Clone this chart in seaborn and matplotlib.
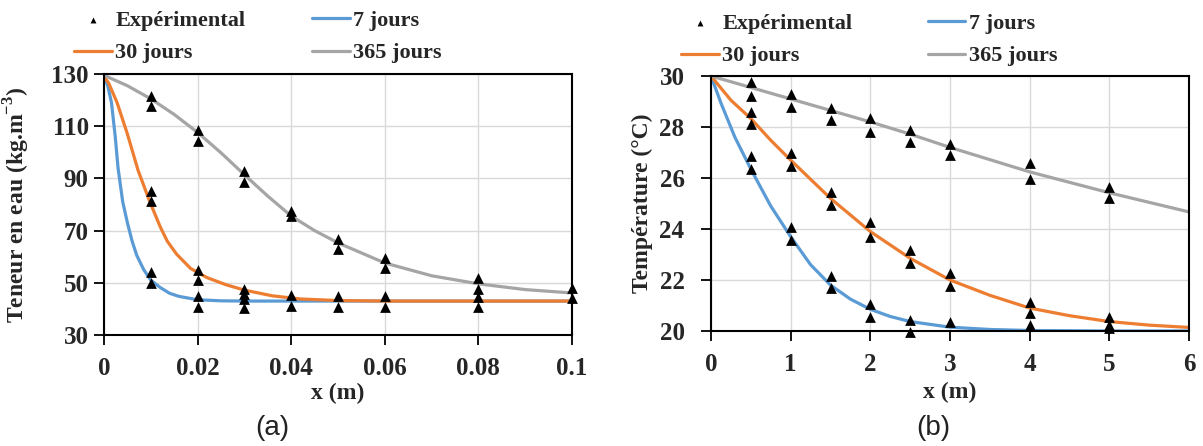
import matplotlib
matplotlib.use("Agg")
import matplotlib.pyplot as plt
import seaborn as sns
import pandas as pd

# ---------------- data: panel (a) ----------------
a_exp_x = [0.01, 0.01, 0.01, 0.01, 0.01, 0.01,
           0.02, 0.02, 0.02, 0.02, 0.02, 0.02,
           0.03, 0.03, 0.03, 0.03, 0.03, 0.03,
           0.04, 0.04, 0.04, 0.04,
           0.05, 0.05, 0.05, 0.05,
           0.06, 0.06, 0.06, 0.06,
           0.08, 0.08, 0.08, 0.08,
           0.1, 0.1]
a_exp_y = [121.6, 117.8, 85.2, 81.3, 54.2, 50.1,
           108.6, 104.5, 54.9, 51.1, 44.9, 40.9,
           92.9, 88.8, 47.6, 45.7, 43.8, 40.4,
           77.7, 75.7, 45.3, 41.0,
           66.9, 62.9, 44.8, 40.7,
           59.5, 55.6, 44.8, 40.7,
           51.8, 47.6, 44.6, 40.7,
           48.0, 44.0]

a7_x = [0, 0.0008, 0.0016, 0.0024, 0.003, 0.004, 0.005, 0.006, 0.007, 0.0085,
        0.010, 0.012, 0.014, 0.016, 0.020, 0.025, 0.03, 0.1]
a7_y = [129, 125.5, 119, 106, 94, 81, 73, 66, 60.5, 55,
        51, 48.2, 46, 44.8, 43.5, 43.1, 43, 43]

a30_x = [0, 0.001, 0.0028, 0.005, 0.0073, 0.0098, 0.012, 0.0135, 0.0155, 0.0185,
         0.022, 0.026, 0.030, 0.036, 0.042, 0.05, 0.06, 0.1]
a30_y = [129, 126.5, 119, 107, 93, 81, 71.5, 66, 61, 55.5,
         52, 49.3, 47.2, 45, 43.8, 43.2, 43, 43]

a365_x = [0, 0.005, 0.01, 0.015, 0.02, 0.025, 0.03, 0.035, 0.04, 0.045,
          0.05, 0.06, 0.07, 0.08, 0.09, 0.1]
a365_y = [129.5, 125.5, 120.5, 114.5, 107.6, 99.8, 91.4, 83.2, 75.6, 70,
          65.3, 57.6, 52.7, 49.6, 47.4, 46.1]

# ---------------- data: panel (b) ----------------
b_exp_x = [0.5] * 6 + [1] * 6 + [1.5] * 6 + [2] * 6 + [2.5] * 6 + [3] * 5 + [4] * 5 + [5] * 5
b_exp_y = [29.77, 29.2, 28.59, 28.11, 26.85, 26.37,
           29.28, 28.79, 26.98, 26.46, 24.06, 23.56,
           28.75, 28.29, 25.46, 24.96, 22.15, 21.67,
           28.37, 27.8, 24.28, 23.67, 21.06, 20.56,
           27.87, 27.42, 23.17, 22.68, 20.43, 19.97,
           27.35, 26.89, 22.26, 21.76, 20.37,
           26.57, 25.98, 21.15, 20.69, 20.24,
           25.65, 25.2, 20.56, 20.24, 20.1]

b7_x = [0, 0.13, 0.3, 0.5, 0.75, 1.0, 1.25, 1.5, 1.75, 2.0, 2.25, 2.5, 3.0, 3.5, 4.0, 5.0, 6.0]
b7_y = [30, 28.9, 27.6, 26.35, 24.9, 23.7, 22.6, 21.8, 21.25, 20.85, 20.57, 20.37,
        20.15, 20.06, 20.02, 20.0, 20.0]

b30_x = [0, 0.25, 0.5, 0.75, 1.0, 1.5, 2.0, 2.5, 3.0, 3.5, 4.0, 4.5, 5.0, 5.5, 6.0]
b30_y = [30, 29.05, 28.33, 27.48, 26.7, 25.2, 23.9, 22.85, 22.0, 21.4, 20.9, 20.6,
         20.37, 20.23, 20.14]

b365_x = [0, 0.5, 1, 1.5, 2, 2.5, 3, 4, 5, 6]
b365_y = [30, 29.55, 29.1, 28.65, 28.2, 27.72, 27.2, 26.24, 25.42, 24.67]

a_xticks = [0, 0.02, 0.04, 0.06, 0.08, 0.1]
a_xticklabels = ["0", "0.02", "0.04", "0.06", "0.08", "0.1"]
a_yticks = [30, 50, 70, 90, 110, 130]
b_xticks = [0, 1, 2, 3, 4, 5, 6]
b_yticks = [20, 22, 24, 26, 28, 30]

labels = ["Expérimental", "7 jours", "30 jours", "365 jours"]
colors = {"7 jours": "#5B9BD5", "30 jours": "#ED7D31", "365 jours": "#A5A5A5"}

# ---------------- style ----------------
sns.set_style("white")
plt.rcParams["font.family"] = ["Liberation Serif", "DejaVu Serif"]
plt.rcParams["font.weight"] = "bold"
plt.rcParams["mathtext.fontset"] = "custom"
plt.rcParams["mathtext.bf"] = "Liberation Serif:bold"
plt.rcParams["mathtext.rm"] = "Liberation Serif:bold"

W, H = 1203, 446
fig = plt.figure(figsize=(W / 100, H / 100), dpi=100)
TICK_FS = 18


def px_axes(l, t, r, b):
    return fig.add_axes([l / W, 1 - b / H, (r - l) / W, (b - t) / H])


def draw(ax, exp_x, exp_y, curves):
    for name, (cx, cy) in curves.items():
        df = pd.DataFrame({"x": cx, "y": cy})
        sns.lineplot(data=df, x="x", y="y", ax=ax, color=colors[name], lw=2.3,
                     sort=False, estimator=None, label=name, zorder=3)
    dfe = pd.DataFrame({"x": exp_x, "y": exp_y})
    sns.scatterplot(data=dfe, x="x", y="y", ax=ax, marker="^", s=60, color="black",
                    edgecolor="black", linewidth=0, zorder=4, clip_on=False,
                    label="Expérimental")
    ax.grid(True, color="#d9d9d9", lw=1.0, zorder=0)
    ax.set_axisbelow(True)
    for sp in ax.spines.values():
        sp.set_color("black")
        sp.set_linewidth(1.5)
        sp.set_zorder(5)
    ax.tick_params(axis="both", which="both", direction="out", length=7, width=1.3,
                   color="black", labelsize=TICK_FS, bottom=True, left=True,
                   top=False, right=False)
    ax.get_legend().remove()


# panel (a)
ax1 = px_axes(104, 74, 572, 335)
draw(ax1, a_exp_x, a_exp_y, {"7 jours": (a7_x, a7_y), "30 jours": (a30_x, a30_y),
                             "365 jours": (a365_x, a365_y)})
ax1.set_xlim(0, 0.1)
ax1.set_ylim(30, 130)
ax1.set_xticks(a_xticks)
ax1.set_xticklabels(a_xticklabels, fontsize=TICK_FS, fontweight="bold")
ax1.set_yticks(a_yticks)
ax1.set_yticklabels([str(v) for v in a_yticks], fontsize=TICK_FS, fontweight="bold")
ax1.tick_params(axis="x", pad=9)
ax1.tick_params(axis="y", pad=4)
ax1.set_xlabel("x (m)", fontsize=17, fontweight="bold")
ax1.set_ylabel("Teneur en eau (kg.m$^{-3}$)", fontsize=17, fontweight="bold")
ax1.yaxis.set_label_coords(-0.153, 0.5)
ax1.xaxis.set_label_coords(0.5, -0.185)

# panel (b)
ax2 = px_axes(711, 76, 1189, 331)
draw(ax2, b_exp_x, b_exp_y, {"7 jours": (b7_x, b7_y), "30 jours": (b30_x, b30_y),
                             "365 jours": (b365_x, b365_y)})
ax2.set_xlim(0, 6)
ax2.set_ylim(20, 30)
ax2.set_xticks(b_xticks)
ax2.set_xticklabels([str(v) for v in b_xticks], fontsize=TICK_FS, fontweight="bold")
ax2.set_yticks(b_yticks)
ax2.set_yticklabels([str(v) for v in b_yticks], fontsize=TICK_FS, fontweight="bold")
ax2.tick_params(axis="x", pad=9)
ax2.tick_params(axis="y", pad=12)
ax2.set_xlabel("x (m)", fontsize=17, fontweight="bold")
ax2.set_ylabel("Température (°C)", fontsize=17, fontweight="bold")
ax2.yaxis.set_label_coords(-0.122, 0.5)
ax2.xaxis.set_label_coords(0.5, -0.2)


# legends (row 1: Expérimental, 7 jours ; row 2: 30 jours, 365 jours)
def add_legend(ax, x_px, y_px, colspace):
    handles, labs = ax.get_legend_handles_labels()
    hmap = dict(zip(labs, handles))
    order = ["Expérimental", "30 jours", "7 jours", "365 jours"]
    fig.legend([hmap[k] for k in order], order, ncol=2, loc="upper left",
               bbox_to_anchor=(x_px / W, 1 - y_px / H), frameon=False,
               borderpad=0, borderaxespad=0, handlelength=1.7, handletextpad=0.15,
               columnspacing=colspace, labelspacing=0.55, markerscale=0.55,
               prop={"family": "Liberation Serif", "weight": "bold", "size": 16})


add_legend(ax1, 74, 10, 3.0)
add_legend(ax2, 681, 13, 3.4)

# captions
fig.text(272 / W, 1 - 428 / H, "(a)", ha="center", va="center", fontsize=20,
         family="Liberation Sans", fontweight="normal", color="#222222")
fig.text(933 / W, 1 - 428 / H, "(b)", ha="center", va="center", fontsize=20,
         family="Liberation Sans", fontweight="normal", color="#222222")

fig.savefig("out.png", dpi=100)
